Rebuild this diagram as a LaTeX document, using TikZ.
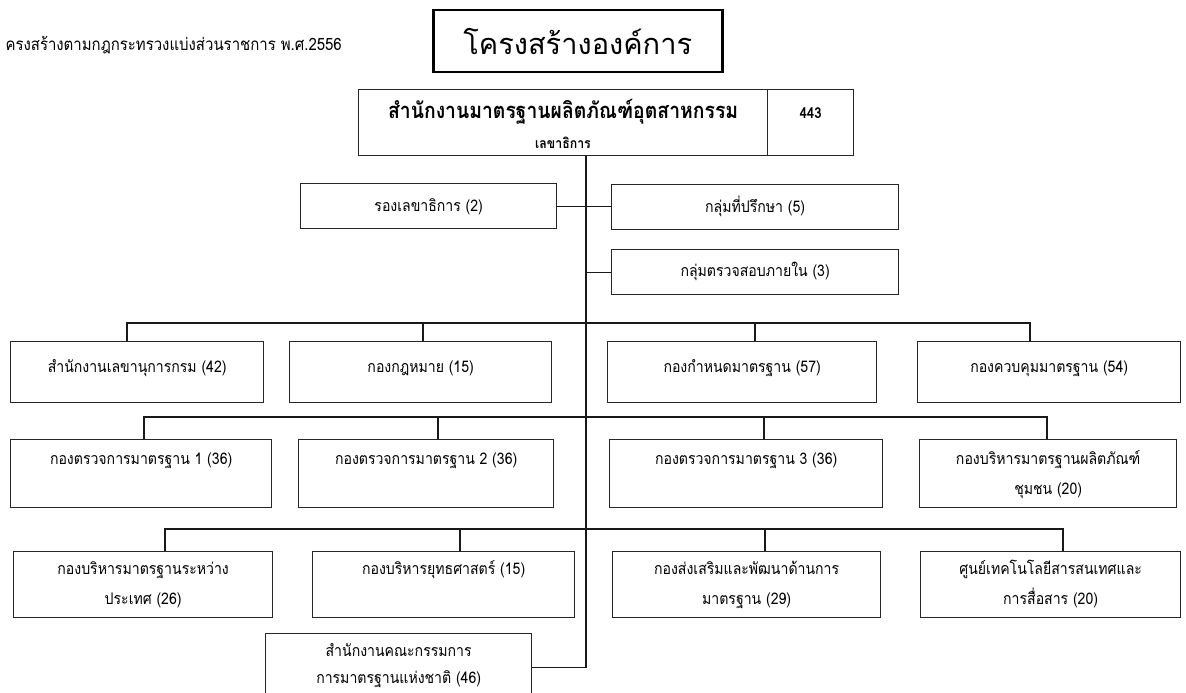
\documentclass[tikz,border=0pt]{standalone}
\usepackage{fontspec}
\newfontfamily\thai[Script=Thai, FakeStretch=0.88]{Loma}
\newfontfamily\thaihead[Script=Thai]{Loma}
\usetikzlibrary{positioning}
\tikzset{
  unit/.style={draw=black!85, line width=1.3pt, anchor=north west, inner sep=0pt, align=center, font=\thai\fontsize{16}{30}\selectfont},
  rowa/.style={text height=31pt, text depth=30pt},
  rowb/.style={text height=25pt, text depth=43pt},
  rowbb/.style={text height=55pt, text depth=13pt},
  rowc/.style={text height=23pt, text depth=43pt},
  rowcc/.style={text height=53pt, text depth=13pt},
  link/.style={line width=1.3pt, black!90}
}

\begin{document}
\begin{tikzpicture}[x=1pt,y=-1pt]
    \useasboundingbox (0,0) rectangle (1186,693);
    \coordinate (spine) at (586,0);

    % heading
    \node[anchor=west, font=\thai\fontsize{17}{19}\selectfont] (note) at (2,45) {ครงสร้างตามกฎกระทรวงแบ่งส่วนราชการ พ.ศ.2556};
    \node[draw, line width=2.5pt, anchor=north west, minimum width=289pt, minimum height=62pt, inner sep=0pt, font=\thaihead\fontsize{29}{34}\selectfont] (title) at (432,9) {โครงสร้างองค์การ};

    % head office
    \node[unit, minimum width=409pt, text height=29pt, text depth=37pt, font=\thai\bfseries\fontsize{22}{24}\selectfont] (hq) at (358,89) {สำนักงานมาตรฐานผลิตภัณฑ์อุตสาหกรรม};
    \node[unit, minimum width=86pt, text height=29pt, text depth=37pt, font=\thai\bfseries\fontsize{15}{20}\selectfont] (hqnum) at (767,89) {443};
    \node[font=\thai\bfseries\fontsize{14}{16}\selectfont] (chief) at (563,143) {เลขาธิการ};

    % staff units
    \node[unit, minimum width=256pt, text height=28pt, text depth=17pt] (deputy) at (300,183) {รองเลขาธิการ (2)};
    \node[unit, minimum width=287pt, text height=28pt, text depth=17pt] (advisor) at (611,184) {กลุ่มที่ปรึกษา (5)};
    \node[unit, minimum width=287pt, text height=27pt, text depth=18pt] (audit) at (611,249) {กลุ่มตรวจสอบภายใน (3)};

    % first row
    \node[unit, rowa, minimum width=253pt] (a1) at (10,341) {สำนักงานเลขานุการกรม (42)};
    \node[unit, rowa, minimum width=262pt] (a2) at (289,341) {กองกฎหมาย (15)};
    \node[unit, rowa, minimum width=269pt] (a3) at (607,341) {กองกำหนดมาตรฐาน (57)};
    \node[unit, rowa, minimum width=263pt] (a4) at (917,341) {กองควบคุมมาตรฐาน (54)};

    % second row
    \node[unit, rowb, minimum width=261pt] (b1) at (10,439) {กองตรวจการมาตรฐาน 1 (36)};
    \node[unit, rowb, minimum width=255pt] (b2) at (298,439) {กองตรวจการมาตรฐาน 2 (36)};
    \node[unit, rowb, minimum width=273pt] (b3) at (609,439) {กองตรวจการมาตรฐาน 3 (36)};
    \node[unit, rowbb, minimum width=257pt] (b4) at (919,439) {กองบริหารมาตรฐานผลิตภัณฑ์\\ชุมชน (20)};

    % third row
    \node[unit, rowcc, minimum width=259pt] (c1) at (13,551) {กองบริหารมาตรฐานระหว่าง\\ประเทศ (26)};
    \node[unit, rowc, minimum width=262pt] (c2) at (312,551) {กองบริหารยุทธศาสตร์ (15)};
    \node[unit, rowcc, minimum width=268pt] (c3) at (612,551) {กองส่งเสริมและพัฒนาด้านการ\\มาตรฐาน (29)};
    \node[unit, rowcc, minimum width=260pt] (c4) at (920,551) {ศูนย์เทคโนโลยีสารสนเทศและ\\การสื่อสาร (20)};

    % national committee office
    \node[unit, minimum width=266pt, text height=50pt, text depth=17pt, font=\thai\fontsize{16}{27}\selectfont] (ncs) at (265,633) {สำนักงานคณะกรรมการ\\การมาตรฐานแห่งชาติ (46)};

    % connectors
    \coordinate (bus1) at (0,323);
    \coordinate (bus2) at (0,417);
    \coordinate (bus3) at (0,529);
    \draw[link] (hq.south -| spine) |- (ncs.east);
    \draw[link] (deputy.east) -- (deputy.east -| advisor.west);
    \draw[link] (audit.west) -- (audit.west -| spine);
    \foreach \n/\x in {a1/127, a2/423, a3/755, a4/1030}
        \draw[link] (\n.north -| \x,0) |- (spine |- bus1);
    \foreach \n/\x in {b1/144, b2/438, b3/764, b4/1047}
        \draw[link] (\n.north -| \x,0) |- (spine |- bus2);
    \foreach \n/\x in {c1/165, c2/460, c3/765, c4/1063}
        \draw[link] (\n.north -| \x,0) |- (spine |- bus3);
\end{tikzpicture}
\end{document}
